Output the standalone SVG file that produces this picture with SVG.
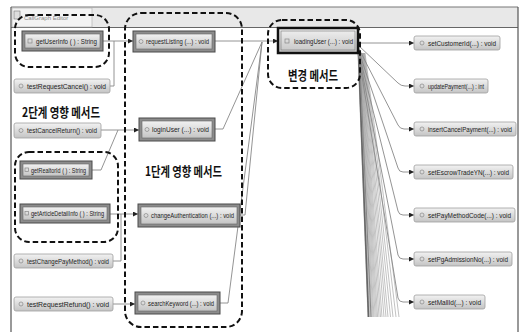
<svg xmlns="http://www.w3.org/2000/svg" width="523" height="332" viewBox="0 0 523 332">
<defs>
<linearGradient id="lg" x1="0" y1="0" x2="0" y2="1"><stop offset="0" stop-color="#f2f2f2"/><stop offset="1" stop-color="#c4c4c4"/></linearGradient>
<marker id="ar" viewBox="0 0 6 6" refX="6" refY="3" markerWidth="5" markerHeight="5" orient="auto" markerUnits="userSpaceOnUse"><path d="M0,0 L6,3 L0,6 z" fill="#222"/></marker>
</defs>
<style>
.t{font-family:"Liberation Sans",Arial,sans-serif;font-size:6.5px;fill:#222}
.k{font-family:"Noto Sans CJK KR","Noto Sans",sans-serif;font-size:13px;font-weight:bold;fill:#111}
.lt{fill:url(#lg);stroke:#a0a0a0;stroke-width:0.8}
.bo{fill:#8c8c8c;stroke:#4a4a4a;stroke-width:1}
.bi{fill:url(#lg);stroke:#666;stroke-width:0.6}
.ic{fill:none;stroke:#888;stroke-width:0.7}
.grp{fill:none;stroke:#111;stroke-width:2;stroke-dasharray:5.5 3}
.c{fill:none;stroke:#888;stroke-width:0.9}
.ca{fill:none;stroke:#888;stroke-width:0.9;marker-end:url(#ar)}
.w{fill:none;stroke:#999;stroke-width:0.6}
</style>
<rect width="523" height="332" fill="#fff"/>
<g id="frame">
<rect x="11" y="7" width="507" height="20" fill="#e8e8e8"/>
<line x1="11" y1="27.5" x2="518" y2="27.5" stroke="#666" stroke-width="1"/>
<line x1="11" y1="7" x2="518" y2="7" stroke="#777" stroke-width="1"/>
<line x1="11" y1="7" x2="11" y2="332" stroke="#555" stroke-width="1.2"/>
<line x1="518" y1="7" x2="518" y2="332" stroke="#555" stroke-width="1.2"/>
<rect x="12" y="8" width="80" height="19" fill="#f3f3f3" stroke="#aaa" stroke-width="0.6"/>
<rect x="14" y="11" width="6" height="8" fill="#ddd" stroke="#777" stroke-width="0.6"/>
<text x="24" y="20" style="font-family:'Liberation Sans',Arial,sans-serif;font-size:6px;fill:#888">CallGraph Editor</text>
</g>
<g id="connectors">
<line class="ca" x1="103" y1="41" x2="133" y2="41"/>
<polyline class="c" points="110,86 114,86 114,41"/>
<line class="ca" x1="101" y1="130" x2="139" y2="130"/>
<polyline class="c" points="92,170 101,170 118,130"/>
<line class="ca" x1="110" y1="214" x2="138" y2="214"/>
<polyline class="c" points="113,261 121,261 121,214"/>
<line class="ca" x1="113" y1="304" x2="135" y2="304"/>
<line class="ca" x1="215" y1="41" x2="278" y2="41"/>
<polyline class="c" points="215,129 223,129 262,42"/>
<polyline class="c" points="240,215 245,215 262,42"/>
<polyline class="c" points="220,303 228,303 262,42"/>
<g id="wedge">
<line class="w" x1="358" y1="53" x2="368" y2="317"/>
<line class="w" x1="358.3" y1="53" x2="369" y2="317"/>
<line class="w" x1="358.6" y1="53" x2="370" y2="317"/>
<line class="w" x1="359" y1="53" x2="371" y2="317"/>
<line class="w" x1="359.3" y1="53" x2="372" y2="317"/>
<line class="w" x1="359.6" y1="53" x2="373" y2="317"/>
<line class="w" x1="360" y1="53" x2="374" y2="317"/>
<line class="w" x1="360.3" y1="53" x2="375.2" y2="317"/>
<line class="w" x1="360.6" y1="53" x2="376.4" y2="317"/>
<line class="w" x1="361" y1="53" x2="377.6" y2="317"/>
<line class="w" x1="361.3" y1="53" x2="379" y2="317"/>
<line class="w" x1="361.6" y1="53" x2="380.5" y2="317"/>
<line class="w" x1="362" y1="53" x2="382" y2="317"/>
<line class="w" x1="362.4" y1="53" x2="384" y2="317"/>
<line class="w" x1="362.8" y1="53" x2="386" y2="317"/>
<line class="w" x1="363.2" y1="53" x2="388" y2="317"/>
<line class="w" x1="363.6" y1="53" x2="390.5" y2="317"/>
<line class="w" x1="364" y1="53" x2="393" y2="317"/>
<line class="w" x1="364.5" y1="53" x2="396" y2="317"/>
<line class="w" x1="365" y1="53" x2="399" y2="317"/>
<line x1="358.5" y1="53" x2="368.5" y2="317" stroke="#666" stroke-width="1.6"/>
<line x1="359.5" y1="53" x2="371" y2="317" stroke="#888" stroke-width="1"/>
</g>
<line class="ca" x1="358" y1="43" x2="414" y2="43"/>
<path class="ca" d="M358,45 L398,83 Q401,86 405,86 L414,86"/>
<path class="ca" d="M358,47 L398,125 Q400,129 404,129 L414,129"/>
<path class="ca" d="M358,49 L398,168 Q399,172 403,172 L414,172"/>
<path class="ca" d="M358,50 L398,211 Q399,215 403,215 L414,215"/>
<path class="ca" d="M358,51 L398,255 Q399,259 403,259 L414,259"/>
<path class="ca" d="M358,52 L398,298 Q399,302 403,302 L414,302"/>
</g>
<g id="groups">
<rect id="g-stage2a" class="grp" x="15" y="15" width="94" height="52" rx="14"/>
<rect id="g-stage2b" class="grp" x="15" y="152" width="103" height="90" rx="14"/>
<rect id="g-stage1" class="grp" x="125" y="13" width="117" height="314" rx="16"/>
<rect id="g-changed" class="grp" x="268" y="20" width="92" height="68" rx="14"/>
</g>
<g id="labels">
<text class="k" x="22" y="117" textLength="78" lengthAdjust="spacingAndGlyphs">2단계 영향 메서드</text>
<text class="k" x="145" y="176" textLength="77" lengthAdjust="spacingAndGlyphs">1단계 영향 메서드</text>
<text class="k" x="288" y="80" textLength="50" lengthAdjust="spacingAndGlyphs">변경 메서드</text>
</g>
<g id="n-getUserInfo"><rect class="bo" x="22" y="31" width="81" height="20"/><rect class="bi" x="25" y="34" width="75" height="14"/><rect class="ic" x="28" y="39" width="4" height="4"/><text class="t" x="36" y="43.5" textLength="61" lengthAdjust="spacingAndGlyphs">getUserInfo ( ) : String</text></g>
<g id="n-testRequestCancel"><rect class="lt" x="14" y="79" width="96" height="14" rx="2"/><circle class="ic" cx="21" cy="86" r="2"/><text class="t" x="27" y="88.5" textLength="79" lengthAdjust="spacingAndGlyphs">testRequestCancel() : void</text></g>
<g id="n-testCancelReturn"><rect class="lt" x="14" y="123" width="87" height="15" rx="2"/><circle class="ic" cx="21" cy="130.5" r="2"/><text class="t" x="27" y="133" textLength="70" lengthAdjust="spacingAndGlyphs">testCancelReturn() : void</text></g>
<g id="n-getRealtorId"><rect class="bo" x="20" y="161" width="72" height="18"/><rect class="bi" x="23" y="164" width="66" height="12"/><rect class="ic" x="25" y="168" width="3.5" height="3.5"/><text class="t" x="31" y="172.5" textLength="55" lengthAdjust="spacingAndGlyphs">getRealtorId ( ) : String</text></g>
<g id="n-getArticleDetailInfo"><rect class="bo" x="20" y="204" width="90" height="19"/><rect class="bi" x="23" y="207" width="84" height="13"/><rect class="ic" x="25" y="211.5" width="3.5" height="3.5"/><text class="t" x="31" y="216" textLength="73" lengthAdjust="spacingAndGlyphs">getArticleDetailInfo ( ) : String</text></g>
<g id="n-testChangePayMethod"><rect class="lt" x="14" y="254" width="99" height="14" rx="2"/><circle class="ic" cx="21" cy="261" r="2"/><text class="t" x="27" y="263.5" textLength="82" lengthAdjust="spacingAndGlyphs">testChangePayMethod() : void</text></g>
<g id="n-testRequestRefund"><rect class="lt" x="14" y="297" width="99" height="14" rx="2"/><circle class="ic" cx="21" cy="304" r="2"/><text class="t" x="27" y="306.5" textLength="82" lengthAdjust="spacingAndGlyphs">testRequestRefund() : void</text></g>
<g id="n-requestListing"><rect class="bo" x="133" y="31" width="82" height="21"/><rect class="bi" x="136" y="34" width="76" height="15"/><circle class="ic" cx="141" cy="41.5" r="2"/><text class="t" x="146" y="44" textLength="63" lengthAdjust="spacingAndGlyphs">requestListing (...) : void</text></g>
<g id="n-loginUser"><rect class="bo" x="139" y="118" width="76" height="23"/><rect class="bi" x="142" y="121" width="70" height="17"/><circle class="ic" cx="147" cy="129.5" r="2"/><text class="t" x="152" y="132" textLength="57" lengthAdjust="spacingAndGlyphs">loginUser (...) : void</text></g>
<g id="n-changeAuthentication"><rect class="bo" x="138" y="204" width="102" height="23"/><rect class="bi" x="141" y="207" width="96" height="17"/><circle class="ic" cx="146" cy="215.5" r="2"/><text class="t" x="151" y="218" textLength="83" lengthAdjust="spacingAndGlyphs">changeAuthentication (...) : void</text></g>
<g id="n-searchKeyword"><rect class="bo" x="135" y="292" width="85" height="22"/><rect class="bi" x="138" y="295" width="79" height="16"/><circle class="ic" cx="143" cy="303" r="2"/><text class="t" x="148" y="305.5" textLength="66" lengthAdjust="spacingAndGlyphs">searchKeyword (...) : void</text></g>
<g id="n-loadingUser"><rect x="278" y="28" width="80" height="25" fill="url(#lg)" stroke="#111" stroke-width="2.5"/><rect x="281" y="31" width="74" height="19" fill="none" stroke="#777" stroke-width="0.6"/><rect class="ic" x="285" y="39" width="4" height="4"/><text class="t" x="294" y="43.5" textLength="59" lengthAdjust="spacingAndGlyphs">loadingUser (...) : void</text></g>
<g id="n-setCustomerId"><rect class="lt" x="414" y="36" width="86" height="14" rx="2"/><circle class="ic" cx="422" cy="43" r="2"/><text class="t" x="428" y="45.5" textLength="68" lengthAdjust="spacingAndGlyphs">setCustomerId(...) : void</text></g>
<g id="n-updatePayment"><rect class="lt" x="414" y="79" width="74" height="14" rx="2"/><circle class="ic" cx="422" cy="86" r="2"/><text class="t" x="428" y="88.5" textLength="56" lengthAdjust="spacingAndGlyphs">updatePayment(...) : int</text></g>
<g id="n-insertCancelPayment"><rect class="lt" x="414" y="122" width="102" height="14" rx="2"/><circle class="ic" cx="422" cy="129" r="2"/><text class="t" x="428" y="131.5" textLength="84" lengthAdjust="spacingAndGlyphs">insertCancelPayment(...) : void</text></g>
<g id="n-setEscrowTradeYN"><rect class="lt" x="414" y="165" width="99" height="14" rx="2"/><circle class="ic" cx="422" cy="172" r="2"/><text class="t" x="428" y="174.5" textLength="81" lengthAdjust="spacingAndGlyphs">setEscrowTradeYN(...) : void</text></g>
<g id="n-setPayMethodCode"><rect class="lt" x="414" y="208" width="101" height="14" rx="2"/><circle class="ic" cx="422" cy="215" r="2"/><text class="t" x="428" y="217.5" textLength="83" lengthAdjust="spacingAndGlyphs">setPayMethodCode(...) : void</text></g>
<g id="n-setPgAdmissionNo"><rect class="lt" x="414" y="252" width="98" height="14" rx="2"/><circle class="ic" cx="422" cy="259" r="2"/><text class="t" x="428" y="261.5" textLength="80" lengthAdjust="spacingAndGlyphs">setPgAdmissionNo(...) : void</text></g>
<g id="n-setMallId"><rect class="lt" x="414" y="295" width="71" height="14" rx="2"/><circle class="ic" cx="422" cy="302" r="2"/><text class="t" x="428" y="304.5" textLength="53" lengthAdjust="spacingAndGlyphs">setMallId(...) : void</text></g>
</svg>
